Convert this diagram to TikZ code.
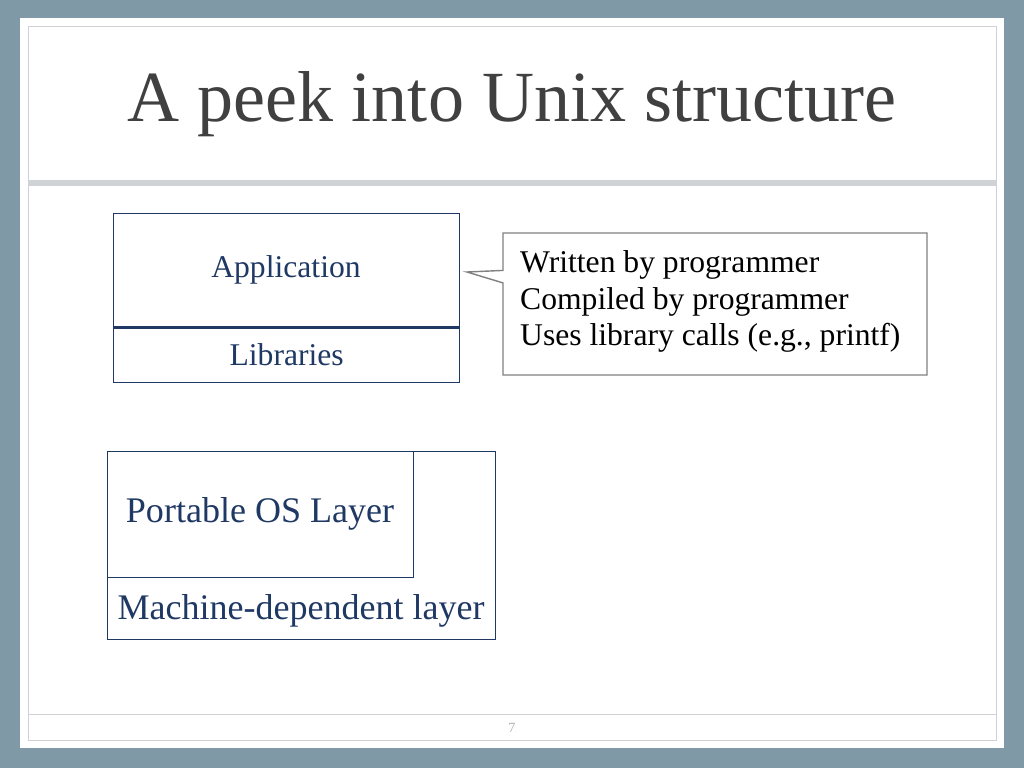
\documentclass[tikz,border=0pt]{standalone}
\usepackage{fontspec}
\setmainfont{Liberation Serif}
\usetikzlibrary{shapes.callouts,positioning}
\definecolor{slidebg}{HTML}{7F9AA6}
\definecolor{navy}{HTML}{1F3864}
\definecolor{rulegray}{HTML}{D0D3D6}
\tikzstyle{layerbox} = [draw=navy, line width=0.8pt, text=navy, font=\fontsize{18}{22}\selectfont]
\tikzstyle{bigtext} = [text=navy, font=\fontsize{20.5}{24}\selectfont]
\tikzstyle{note} = [rectangle callout, draw=gray, fill=white, line width=0.8pt, align=left, font=\fontsize{18}{21}\selectfont]
\begin{document}
\begin{tikzpicture}[x=0.02cm, y=-0.02cm]
      \fill[slidebg] (0,0) rectangle (1024,768);
      \fill[white] (20,18) rectangle (1004,748);
      \draw[rulegray, line width=0.5pt] (28,26) rectangle (996,740);
      \draw[rulegray, line width=3pt] (28,183) -- (996,183);
      \draw[rulegray, line width=0.5pt] (28,714) -- (996,714);
      \node[text=black!75, font=\fontsize{41}{48}\selectfont] (title) at (512,104) {A peek into Unix structure};
      \node[text=black!30, font=\footnotesize] (page) at (512,728) {7};
      % upper stack
      \node[layerbox, minimum width=346*0.02cm, minimum height=113*0.02cm, anchor=north west] (app) at (113,213) {};
      \node[text=navy, font=\fontsize{18}{22}\selectfont] (apptext) at (286,270) {Application};
      \node[layerbox, minimum width=346*0.02cm, minimum height=56*0.02cm, anchor=north west] (lib) at (113,326) {Libraries};
      \draw[navy, line width=1.6pt] (app.south west) -- (app.south east);
      \node[note, minimum width=424*0.02cm, minimum height=142*0.02cm, callout absolute pointer={(467,272)}] (callout) at (715,304) {};
      \node[anchor=north west, align=left, font=\fontsize{18}{21}\selectfont] (notetext) at (514,244) {Written by programmer\\Compiled by programmer\\Uses library calls (e.g., printf)};
      % lower stack
      \node[layerbox, minimum width=388*0.02cm, minimum height=188*0.02cm, anchor=north west] (machine) at (107,451) {};
      \node[bigtext] (machtext) at (301,611) {Machine-dependent layer};
      \node[layerbox, minimum width=306*0.02cm, minimum height=126*0.02cm, anchor=north west, font=\fontsize{20.5}{24}\selectfont] (portable) at (107,451) {};
      \node[bigtext] (porttext) at (260,514) {Portable OS Layer};
\end{tikzpicture}
\end{document}
